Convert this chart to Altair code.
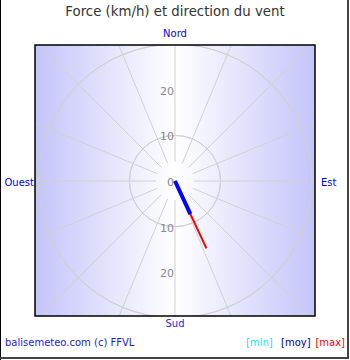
import altair as alt
import pandas as pd

# ---- data ----
RING_SPEEDS = [10, 20, 30]
RING_LABEL_POS = [0, 10, 20, -10, -20]
SPOKE_BEARINGS = [0, 22.5, 45, 67.5, 90, 112.5, 135, 157.5,
                  180, 202.5, 225, 247.5, 270, 292.5, 315, 337.5]
WIND_BEARING = 155
WIND_MIN = 0.0
WIND_MOY = 8.0
WIND_MAX = 16.3

TITLE = "Force (km/h) et direction du vent"
CARDINALS = ["Nord", "Sud", "Ouest", "Est"]
FOOTER = "balisemeteo.com (c) FFVL"
LEGEND = ["[min]", "[moy]", "[max]"]

# ---- geometry ----
W, H = 280, 271
K = 4.56  # px per km/h
CY = 136  # centre offset from top of plot box
xs = alt.Scale(domain=[-W / 2 / K, W / 2 / K], nice=False, zero=False)
ys = alt.Scale(domain=[-(H - CY) / K, CY / K], nice=False, zero=False)
FONT = "DejaVu Sans"

one = alt.Data(values=[{}])

bg = alt.Chart(one).mark_rect(
    fill={"gradient": "linear", "x1": 0, "y1": 0, "x2": 1, "y2": 0,
          "stops": [{"offset": 0, "color": "#c4c4fa"},
                    {"offset": 0.5, "color": "#ffffff"},
                    {"offset": 1, "color": "#c4c4fa"}]}
).encode(x=alt.value(0), x2=alt.value(W), y=alt.value(0), y2=alt.value(H))

rings = alt.Chart(pd.DataFrame({"r": RING_SPEEDS})).transform_calculate(
    cx="0", cy="0"
).mark_arc(theta=0, theta2=6.2832, fillOpacity=0, stroke="#d0d0d0",
           strokeWidth=1, clip=True).encode(
    x=alt.X("cx:Q", scale=xs, axis=None),
    y=alt.Y("cy:Q", scale=ys, axis=None),
    radius=alt.Radius("r:Q", scale=alt.Scale(type="linear", domain=[0, 10],
                                             range=[0, 10 * K])),
)

spokes = alt.Chart(pd.DataFrame({"a": SPOKE_BEARINGS})).transform_calculate(
    x1="4.2*sin(datum.a*PI/180)", y1="4.2*cos(datum.a*PI/180)",
    x2="60*sin(datum.a*PI/180)", y2="60*cos(datum.a*PI/180)",
).mark_rule(color="#d0d0d0", strokeWidth=1, clip=True).encode(
    x=alt.X("x1:Q", scale=xs, axis=None), y=alt.Y("y1:Q", scale=ys, axis=None),
    x2="x2:Q", y2="y2:Q",
)

ring_labels = alt.Chart(pd.DataFrame({"p": RING_LABEL_POS})).transform_calculate(
    cx="0", t="toString(abs(datum.p))"
).mark_text(align="right", baseline="middle", dx=-1, dy=2, font=FONT,
            fontSize=11, color="#888888").encode(
    x=alt.X("cx:Q", scale=xs, axis=None), y=alt.Y("p:Q", scale=ys, axis=None),
    text="t:N",
)


def wind_line(speed, color, width):
    return alt.Chart(pd.DataFrame({"r": [speed], "a": [WIND_BEARING]})).transform_calculate(
        x0="0", y0="0",
        ex="datum.r*sin(datum.a*PI/180)", ey="datum.r*cos(datum.a*PI/180)",
    ).mark_rule(color=color, strokeWidth=width).encode(
        x=alt.X("x0:Q", scale=xs, axis=None), y=alt.Y("y0:Q", scale=ys, axis=None),
        x2="ex:Q", y2="ey:Q",
    )


w_max = wind_line(WIND_MAX, "#ff0000", 2)
w_moy = wind_line(WIND_MOY, "#0000ff", 4)
w_min = wind_line(WIND_MIN, "#00ffff", 2)

box = alt.Chart(one).mark_rect(fillOpacity=0, stroke="#000000", strokeWidth=1.5).encode(
    x=alt.value(0), x2=alt.value(W), y=alt.value(0), y2=alt.value(H))


def txt(s, x, y, color, size=10, align="center"):
    return alt.Chart(one).mark_text(text=s, font=FONT, fontSize=size, color=color,
                                    align=align, baseline="middle").encode(
        x=alt.value(x), y=alt.value(y))


texts = [
    txt(TITLE, 140, -33, "#333333", 13.3),
    txt(CARDINALS[0], 140, -11, "#0000ff"),
    txt(CARDINALS[1], 140, 279, "#2a2ae0"),
    txt(CARDINALS[2], -1, 138, "#0000ff", align="right"),
    txt(CARDINALS[3], 286, 138, "#0000ff", align="left"),
    txt(FOOTER, -30, 298, "#1a1ae6", align="left"),
    txt(LEGEND[0], 211, 298, "#00eeff", align="left"),
    txt(LEGEND[1], 246, 298, "#0000aa", align="left"),
    txt(LEGEND[2], 310, 298, "#ff0000", align="right"),
]

frame = [
    alt.Chart(one).mark_rule(color="#000000", strokeWidth=1).encode(
        x=alt.value(-34.5), y=alt.value(-45), y2=alt.value(315)),
    alt.Chart(one).mark_rule(color="#444444", strokeWidth=2).encode(
        x=alt.value(313), y=alt.value(-45), y2=alt.value(314)),
    alt.Chart(one).mark_rule(color="#444444", strokeWidth=2).encode(
        x=alt.value(-35), x2=alt.value(314), y=alt.value(313)),
]

chart = alt.layer(bg, rings, spokes, ring_labels, w_max, w_moy, w_min, box,
                  *texts, *frame).properties(
    width=W, height=H,
    autosize=alt.AutoSizeParams(type="none"),
    padding={"left": 35, "top": 45, "right": 35, "bottom": 44},
    background="#ffffff",
).configure_view(stroke=None)

chart.save("out.html", embed_options={"renderer": "svg", "actions": False})
